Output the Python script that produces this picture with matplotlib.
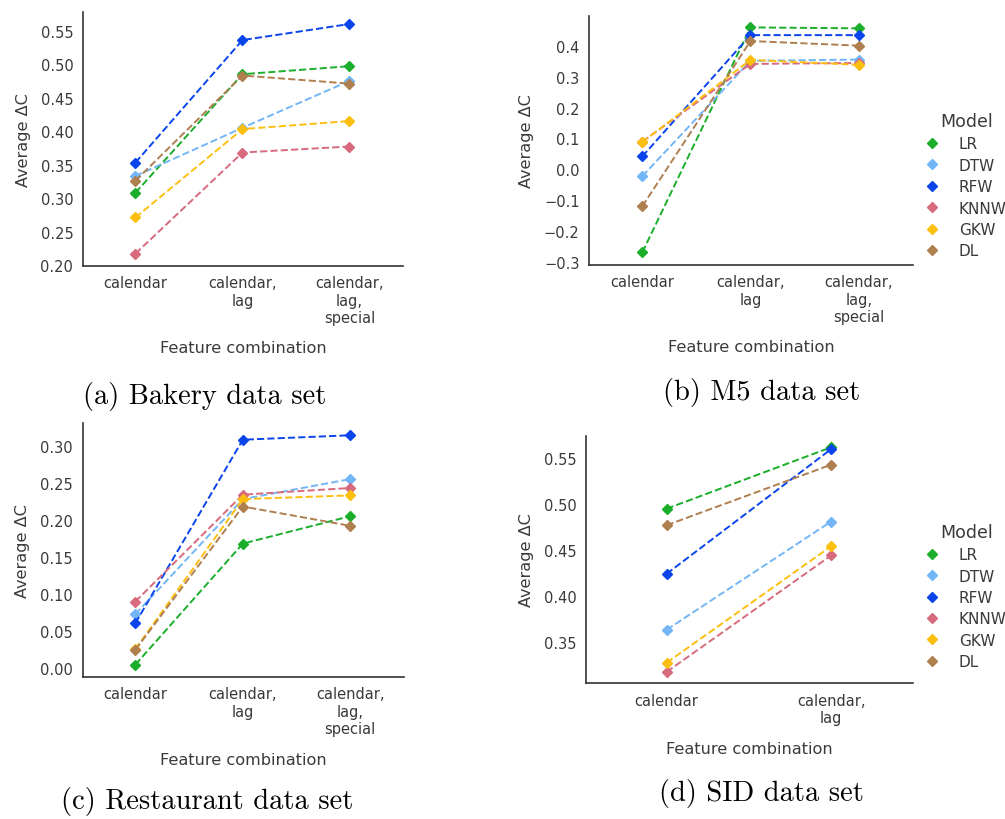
import matplotlib
matplotlib.use("Agg")
import matplotlib.pyplot as plt
import seaborn as sns
from matplotlib.lines import Line2D
from matplotlib.ticker import FuncFormatter

sns.set_theme(style="white")
plt.rcParams['font.family'] = ['DejaVu Sans']

models = ["LR", "DTW", "RFW", "KNNW", "GKW", "DL"]
colors = {"LR": "#1aae2a", "DTW": "#72b6f7", "RFW": "#0a45ec",
          "KNNW": "#d86a7d", "GKW": "#fdbf0f", "DL": "#b07f50"}

feat3 = ["calendar", "calendar,\nlag", "calendar,\nlag,\nspecial"]
feat2 = ["calendar", "calendar,\nlag"]

# average delta C per model and feature combination
bakery = {
    "LR":   [0.308, 0.485, 0.497],
    "DTW":  [0.333, 0.405, 0.475],
    "RFW":  [0.353, 0.536, 0.560],
    "KNNW": [0.217, 0.368, 0.377],
    "GKW":  [0.271, 0.403, 0.415],
    "DL":   [0.326, 0.483, 0.471],
}
m5 = {
    "LR":   [-0.268, 0.459, 0.456],
    "DTW":  [-0.022, 0.351, 0.355],
    "RFW":  [0.042, 0.434, 0.434],
    "KNNW": [0.090, 0.341, 0.344],
    "GKW":  [0.088, 0.354, 0.338],
    "DL":   [-0.119, 0.415, 0.400],
}
restaurant = {
    "LR":   [0.005, 0.168, 0.205],
    "DTW":  [0.073, 0.228, 0.255],
    "RFW":  [0.061, 0.308, 0.314],
    "KNNW": [0.090, 0.234, 0.243],
    "GKW":  [0.026, 0.228, 0.233],
    "DL":   [0.025, 0.218, 0.192],
}
sid = {
    "LR":   [0.495, 0.562],
    "DTW":  [0.363, 0.481],
    "RFW":  [0.424, 0.560],
    "KNNW": [0.317, 0.444],
    "GKW":  [0.327, 0.454],
    "DL":   [0.477, 0.543],
}

yt_bakery = [0.20, 0.25, 0.30, 0.35, 0.40, 0.45, 0.50, 0.55]
yt_m5 = [-0.3, -0.2, -0.1, 0.0, 0.1, 0.2, 0.3, 0.4]
yt_rest = [0.00, 0.05, 0.10, 0.15, 0.20, 0.25, 0.30]
yt_sid = [0.35, 0.40, 0.45, 0.50, 0.55]

panels = [
    (bakery, feat3, [0.0826, 0.6748, 0.3184, 0.3094], (0.199, 0.578), yt_bakery, 2,
     "(a) Bakery data set", (0.204, 0.517), None),
    (m5, feat3, [0.5864, 0.6760, 0.3218, 0.3037], (-0.308, 0.497), yt_m5, 1,
     "(b) M5 data set", (0.758, 0.521), 0.773),
    (restaurant, feat3, [0.0823, 0.1735, 0.3197, 0.3094], (-0.0113, 0.3305), yt_rest, 2,
     "(c) Restaurant data set", (0.206, 0.022), None),
    (sid, feat2, [0.5831, 0.1655, 0.3257, 0.3020], (0.3046, 0.5747), yt_sid, 2,
     "(d) SID data set", (0.758, 0.032), 0.272),
]


def tick_fmt(nd):
    return FuncFormatter(lambda v, pos: f"{v:.{nd}f}".replace("-", "\u2212"))


fig = plt.figure(figsize=(10.05, 8.2), dpi=100)
fs = 10.5
lfs = 11.6
legfs = 11.0
txt = "#3a3a3a"

for data, feats, rect, ylim, yticks, nd, caption, cpos, legy in panels:
    ax = fig.add_axes(rect)
    for m in models:
        ax.plot(feats, data[m], linestyle="--", marker="D", markersize=5.2,
                linewidth=1.4, color=colors[m], label=m)
    ax.set_xlim(-0.49, len(feats) - 0.5)
    ax.set_ylim(*ylim)
    ax.set_yticks(yticks)
    ax.yaxis.set_major_formatter(tick_fmt(nd))
    ax.tick_params(labelsize=fs, colors=txt, length=0, pad=7)
    ax.set_ylabel("Average ΔC", fontsize=lfs, color=txt, labelpad=7)
    ax.set_xlabel("Feature combination", fontsize=lfs, color=txt, labelpad=11)
    for s in ["left", "bottom"]:
        ax.spines[s].set_color("#333333")
        ax.spines[s].set_linewidth(1.2)
    sns.despine(ax=ax)
    if legy is not None:
        handles = [Line2D([], [], linestyle="", marker="D", markersize=5.2,
                          color=colors[m]) for m in models]
        leg = fig.legend(handles, models, title="Model", loc="center left",
                         bbox_to_anchor=(926 / 1005, legy), frameon=False,
                         fontsize=legfs, title_fontsize=legfs + 1.5, borderpad=0,
                         borderaxespad=0, handlelength=0.75, handletextpad=1.4,
                         labelspacing=0.42)
        for t in leg.get_texts():
            t.set_color(txt)
        leg.get_title().set_color(txt)
    fig.text(cpos[0], cpos[1], caption, fontsize=20.5, family="cmr10",
             ha="center", va="center", color="black")

fig.savefig("out.png", dpi=100)
